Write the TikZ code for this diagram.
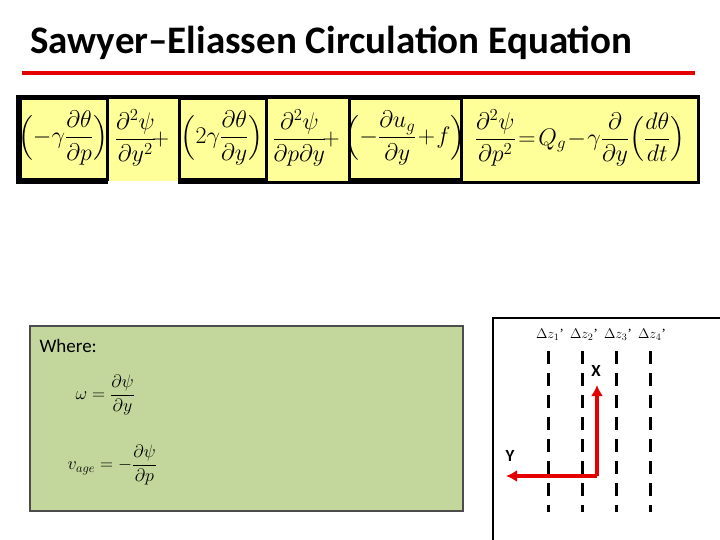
\documentclass[tikz,border=0pt]{standalone}
\usepackage{fontspec}
\setsansfont{Carlito}
\setmainfont{Liberation Serif}
\usepackage{amsmath}
\usepackage{fix-cm}
\usetikzlibrary{arrows.meta}
\definecolor{ylw}{RGB}{255,255,153}
\definecolor{grn}{RGB}{195,214,155}
\newcommand{\eqsz}{\fontsize{24pt}{28pt}\selectfont}
\newcommand{\wsz}{\fontsize{18pt}{21pt}\selectfont}
\newcommand{\dsz}{\fontsize{14pt}{16pt}\selectfont}
\begin{document}
\begin{tikzpicture}[x=1pt,y=-1pt,
 ybox/.style={fill=ylw,draw=none},
 bbox/.style={fill=ylw,draw=black,line width=3pt},
 eq/.style={inner sep=0pt},
 dz/.style={black,line width=3pt,dash pattern=on 13pt off 9pt},
 arr/.style={red!90!black,line width=4pt,-{Latex[length=11pt,width=12pt]}}]
\useasboundingbox (0,0) rectangle (720,540);
\node[anchor=west,inner sep=0pt] (title) at (30,43) {\sffamily\bfseries\fontsize{39pt}{45pt}\selectfont Sawyer–Eliassen Circulation Equation};
\draw[red!90!black,line width=4pt] (22,73) -- (695,73);
\fill[black] (16,95) rectangle (700,184);
\fill[ybox] (20,99) rectangle (697,181);
\draw[bbox] (20,99) rectangle (107,180);
\draw[bbox] (179,99) rectangle (266,180);
\draw[bbox] (349,99) rectangle (461,180);
\fill[white] (108,181) rectangle (178,184);
\node[eq] (t1) at (63,138) {\eqsz$\Bigl(-\gamma\dfrac{\partial\theta}{\partial p}\Bigr)$};
\node[eq] (t2) at (142,138) {\eqsz$\dfrac{\partial^2\psi}{\partial y^2}\!+$};
\node[eq] (t3) at (222,138) {\eqsz$\Bigl(2\gamma\dfrac{\partial\theta}{\partial y}\Bigr)$};
\node[eq] (t4) at (306,138) {\eqsz$\dfrac{\partial^2\psi}{\partial p\partial y}\!+$};
\node[eq] (t5) at (405,138) {\eqsz$\Bigl(-\dfrac{\partial u_g}{\partial y}\!+\!f\Bigr)$};
\node[eq] (t6) at (580,138) {\eqsz$\dfrac{\partial^2\psi}{\partial p^2}\!=\!Q_g\!-\!\gamma\dfrac{\partial}{\partial y}\Bigl(\dfrac{d\theta}{dt}\Bigr)$};
\draw[fill=grn,draw=black!70,line width=1.5pt] (30,326) rectangle (463,511);
\node[anchor=west,font=\sffamily\fontsize{19pt}{23pt}\selectfont] (where) at (36,346) {Where:};
\node[anchor=west] (om) at (72,395) {\wsz$\omega=\dfrac{\partial\psi}{\partial y}$};
\node[anchor=west] (va) at (64,465) {\wsz$v_{age}=-\dfrac{\partial\psi}{\partial p}$};
\draw[line width=2.5pt] (493,540) -- (493,318) -- (720,318);
\foreach \xx/\i in {548/1,582/2,616/3,650/4}{
 \draw[dz] (\xx,351) -- (\xx,512);
 \node[inner sep=0pt] (l\i) at (\xx+2,335) {\dsz$\Delta z_{\i}$'};}
\coordinate (c) at (597,476);
\coordinate (xe) at (597,385);
\coordinate (ye) at (506,476);
\draw[arr] (c) -- (xe);
\draw[arr] (c) -- (ye);
\node[font=\sffamily\bfseries\fontsize{17pt}{20pt}\selectfont] (X) at (596,371) {X};
\node[font=\sffamily\bfseries\fontsize{17pt}{20pt}\selectfont] (Y) at (510,456) {Y};
\end{tikzpicture}
\end{document}
